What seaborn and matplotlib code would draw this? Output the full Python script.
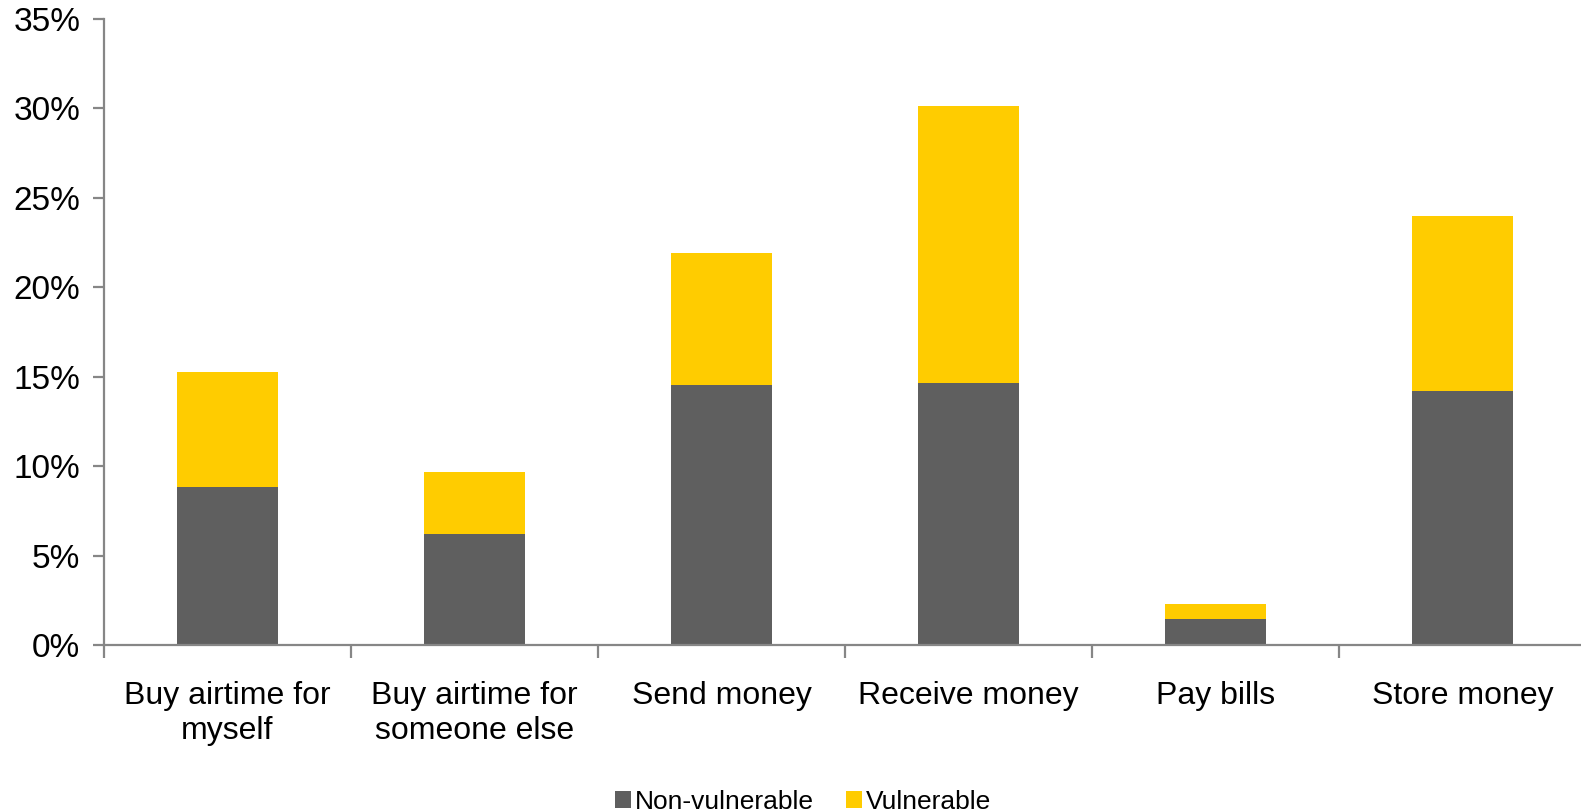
import numpy as np
import pandas as pd
import matplotlib
matplotlib.use("Agg")
import matplotlib.pyplot as plt
from matplotlib.ticker import PercentFormatter, FixedLocator
from matplotlib.patches import Patch
import seaborn as sns

categories = ["Buy airtime for\nmyself", "Buy airtime for\nsomeone else", "Send money",
              "Receive money", "Pay bills", "Store money"]
non_vulnerable = [8.85, 6.2, 14.55, 14.65, 1.47, 14.2]
vulnerable = [6.43, 3.5, 7.38, 15.5, 0.84, 9.8]
y_ticks = [0, 5, 10, 15, 20, 25, 30, 35]

DARK = "#5f5f5f"
YELLOW = "#ffcc00"
AXIS = "#868686"

sns.set_theme(style="white")
plt.rcParams["font.family"] = ["Liberation Sans", "DejaVu Sans"]

df = pd.DataFrame({
    "category": categories,
    "Non-vulnerable": non_vulnerable,
    "total": np.array(non_vulnerable) + np.array(vulnerable),
})

fig = plt.figure(figsize=(15.81, 8.11), dpi=100)
ax = fig.add_axes([104 / 1581, 1 - 645 / 811, 1482 / 1581, (645 - 19) / 811])

# stacked bars: full height in yellow, non-vulnerable share drawn over it
sns.barplot(data=df, x="category", y="total", color=YELLOW, saturation=1,
            width=0.405, ax=ax, linewidth=0)
sns.barplot(data=df, x="category", y="Non-vulnerable", color=DARK, saturation=1,
            width=0.405, ax=ax, linewidth=0)

ax.set_xlim(-0.5, len(categories) - 0.5)
ax.set_ylim(0, 35)
ax.yaxis.set_major_locator(FixedLocator(y_ticks))
ax.yaxis.set_major_formatter(PercentFormatter(decimals=0))
ax.set_xlabel("")
ax.set_ylabel("")

for side in ["top", "right"]:
    ax.spines[side].set_visible(False)
for side in ["left", "bottom"]:
    ax.spines[side].set_color(AXIS)
    ax.spines[side].set_linewidth(1.6)

ax.tick_params(axis="y", direction="out", length=8, width=1.6, color=AXIS,
               labelsize=24, pad=9, left=True)
ax.tick_params(axis="x", which="major", length=0, labelsize=23, pad=26)
ax.set_xticks(np.arange(-0.5, len(categories)), minor=True)
ax.tick_params(axis="x", which="minor", direction="out", length=9, width=1.6,
               color=AXIS, bottom=True)
for lab in ax.get_yticklabels() + ax.get_xticklabels():
    lab.set_color("black")

handles = [Patch(facecolor=DARK, edgecolor="none", label="Non-vulnerable"),
           Patch(facecolor=YELLOW, edgecolor="none", label="Vulnerable")]
fig.legend(handles=handles, loc="center", bbox_to_anchor=(803 / 1581, 1 - 802 / 811),
           ncol=2, frameon=False, fontsize=19, handlelength=0.62, handleheight=0.62,
           handletextpad=0.15, columnspacing=1.2, borderaxespad=0, labelcolor="black")

fig.savefig("out.png", dpi=100)
